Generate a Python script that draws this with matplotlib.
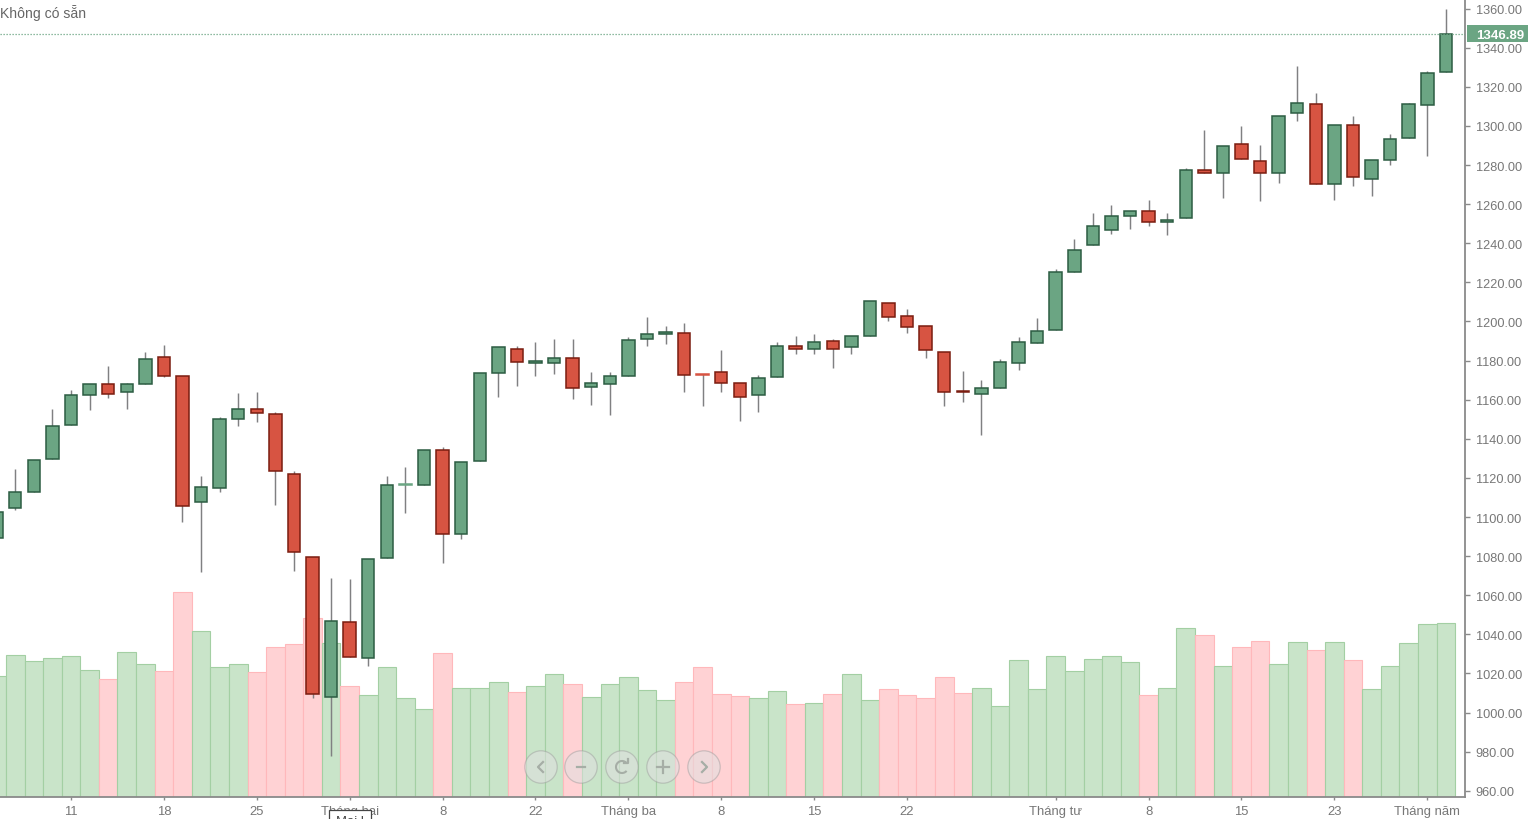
import matplotlib
matplotlib.use('Agg')
import matplotlib.pyplot as plt
from matplotlib.lines import Line2D
from matplotlib.patches import Arc, Circle, Rectangle
from matplotlib.transforms import IdentityTransform

plt.rcParams['font.family'] = ['Liberation Sans', 'DejaVu Sans']

opens = [1089.4, 1104.8, 1112.9, 1129.8, 1147.2, 1162.6, 1168.2, 1164.1, 1168.2, 1182.0,
         1172.3, 1107.8, 1115.0, 1150.3, 1155.4, 1152.8, 1122.1, 1079.7, 1008.1, 1046.5,
         1028.0, 1079.2, 1116.5, 1116.5, 1134.4, 1091.5, 1128.8, 1173.8, 1186.1, 1178.9,
         1178.9, 1181.5, 1166.6, 1168.2, 1172.3, 1191.2, 1193.8, 1194.3, 1173.0, 1174.3,
         1168.7, 1162.6, 1171.8, 1187.6, 1186.1, 1190.2, 1187.1, 1192.7, 1209.6, 1203.0,
         1197.9, 1184.6, 1164.3, 1163.1, 1166.1, 1178.9, 1189.1, 1195.8, 1225.5, 1239.3,
         1247.0, 1254.1, 1256.7, 1251.0, 1253.1, 1277.6, 1276.1, 1290.9, 1282.3, 1276.1,
         1306.8, 1311.4, 1270.5, 1300.7, 1273.0, 1282.8, 1294.0, 1310.9, 1327.8]
highs = [1102.7, 1124.7, 1129.3, 1155.4, 1165.1, 1168.2, 1177.4, 1168.7, 1184.6, 1188.1,
         1172.3, 1121.1, 1151.3, 1163.6, 1164.1, 1153.9, 1123.7, 1079.7, 1069.0, 1068.5,
         1078.7, 1121.1, 1125.7, 1134.4, 1136.0, 1128.3, 1173.8, 1187.1, 1187.6, 1189.7,
         1191.2, 1191.2, 1174.3, 1174.3, 1192.2, 1202.5, 1197.9, 1199.4, 1173.0, 1185.6,
         1168.7, 1172.8, 1189.7, 1192.7, 1193.8, 1191.2, 1192.7, 1210.6, 1209.6, 1206.5,
         1197.9, 1184.6, 1174.8, 1170.2, 1181.0, 1192.2, 1201.9, 1227.0, 1242.4, 1255.6,
         1259.7, 1256.7, 1262.3, 1255.6, 1278.7, 1298.1, 1289.9, 1300.2, 1290.4, 1305.3,
         1330.8, 1317.0, 1300.7, 1305.3, 1282.8, 1296.1, 1311.9, 1328.3, 1360.0]
lows = [1089.4, 1103.7, 1112.9, 1129.8, 1147.2, 1154.9, 1161.0, 1155.4, 1168.2, 1171.8,
        1097.6, 1072.0, 1112.9, 1146.7, 1148.7, 1106.3, 1072.5, 1007.6, 977.9, 1028.5,
        1023.9, 1079.2, 1102.2, 1116.5, 1076.6, 1088.9, 1128.8, 1161.5, 1167.2, 1172.3,
        1173.3, 1160.5, 1157.4, 1152.3, 1172.3, 1187.6, 1188.6, 1164.1, 1156.9, 1164.1,
        1149.3, 1153.9, 1171.8, 1183.5, 1183.5, 1176.4, 1183.5, 1192.7, 1200.4, 1194.3,
        1181.5, 1156.9, 1159.0, 1142.1, 1166.1, 1175.3, 1189.1, 1195.8, 1225.5, 1239.3,
        1244.9, 1247.5, 1249.0, 1244.4, 1253.1, 1276.1, 1263.3, 1283.3, 1261.8, 1271.0,
        1302.7, 1270.5, 1262.3, 1269.5, 1264.3, 1280.2, 1294.0, 1284.8, 1327.8]
closes = [1102.7, 1112.9, 1129.3, 1146.7, 1162.6, 1168.2, 1163.1, 1168.2, 1181.0, 1172.3,
          1105.8, 1115.5, 1150.3, 1155.4, 1153.4, 1123.7, 1082.3, 1009.6, 1047.0, 1028.5,
          1078.7, 1116.5, 1116.7, 1134.4, 1091.5, 1128.3, 1173.8, 1187.1, 1179.4, 1179.9,
          1181.5, 1166.1, 1168.7, 1172.3, 1190.7, 1193.8, 1194.8, 1172.8, 1172.8, 1168.7,
          1161.5, 1171.3, 1187.6, 1186.1, 1189.7, 1186.1, 1192.7, 1210.6, 1202.5, 1197.3,
          1185.6, 1164.1, 1163.7, 1166.1, 1179.4, 1189.7, 1195.3, 1225.5, 1236.7, 1249.0,
          1254.1, 1256.7, 1251.0, 1252.1, 1277.6, 1276.1, 1289.9, 1283.3, 1276.1, 1305.3,
          1311.9, 1270.5, 1300.7, 1274.1, 1282.8, 1293.5, 1311.4, 1327.3, 1346.89]
volumes = [121, 142, 136, 139, 141, 127, 118, 145, 133, 126,
           205, 166, 130, 133, 125, 150, 153, 179, 154, 111,
           102, 130, 99, 88, 144, 109, 109, 115, 105, 111,
           123, 113, 100, 113, 120, 107, 97, 115, 130, 103,
           101, 99, 106, 93, 94, 103, 123, 97, 108, 102,
           99, 120, 104, 109, 91, 137, 108, 141, 126, 138,
           141, 135, 102, 109, 169, 162, 131, 150, 156, 133,
           155, 147, 155, 137, 108, 131, 154, 173, 174]

price_ticks = list(range(960, 1361, 20))
date_tick_pos = [4, 9, 14, 19, 24, 29, 34, 39, 44, 49, 57, 62, 67, 72, 77]
date_tick_labels = ['11', '18', '25', 'Tháng hai', '8', '22', 'Tháng ba', '8', '15', '22',
                    'Tháng tư', '8', '15', '23', 'Tháng năm']
no_data_text = 'Không có sẵn'

UP_FILL, UP_EDGE = '#6ba583', '#2c5c42'
DOWN_FILL, DOWN_EDGE = '#d75442', '#7a1c10'
VOL_UP, VOL_UP_EDGE = '#c9e4c9', '#a3cfa3'
VOL_DOWN, VOL_DOWN_EDGE = '#ffd2d4', '#ffb8bb'
WICK = '#808082'
AXIS = '#8a8a8a'
LABEL = '#777777'

W, H = 1528, 820


def main():
    fig = plt.figure(figsize=(W / 100, H / 100), dpi=100, facecolor='white')
    rect = [0, (H - 797.5) / H, 1465 / W, 797.5 / H]
    ax = fig.add_axes(rect)
    ax_vol = ax.twinx()
    ax.set_zorder(ax_vol.get_zorder() + 1)
    ax.patch.set_visible(False)
    ax_vol.set_facecolor('white')

    x = list(range(len(closes)))
    up = [c >= o for o, c in zip(opens, closes)]

    # Volume sits behind the candles
    ax_vol.bar(x, volumes, width=1.0,
               color=[VOL_UP if u else VOL_DOWN for u in up],
               edgecolor=[VOL_UP_EDGE if u else VOL_DOWN_EDGE for u in up],
               linewidth=0.8)
    ax_vol.set_ylim(0, 797.5)
    ax_vol.set_yticks([])
    ax_vol.tick_params(right=False, labelright=False)

    ax.vlines(x, lows, highs, color=WICK, linewidth=1.05, zorder=2)

    # Flat candles get no dark outline, they show as a light dash
    heights = [abs(c - o) for o, c in zip(opens, closes)]
    edges = []
    for u, h in zip(up, heights):
        if h < 0.3:
            edges.append(UP_FILL if u else DOWN_FILL)
        else:
            edges.append(UP_EDGE if u else DOWN_EDGE)
    ax.bar(x, heights, bottom=[min(o, c) for o, c in zip(opens, closes)], width=0.67,
           color=[UP_FILL if u else DOWN_FILL for u in up],
           edgecolor=edges, linewidth=1.1, zorder=3)

    ax.axhline(closes[-1], color=UP_FILL, linestyle=(0, (1, 1.4)), linewidth=0.9, zorder=4)

    ax.set_xlim(0.1787, 79.03)
    ax.set_ylim(957.05, 1364.95)

    ax.yaxis.tick_right()
    ax.set_yticks(price_ticks)
    ax.set_yticklabels([f'{p:.2f}' for p in price_ticks])
    ax.set_xticks(date_tick_pos)
    ax.set_xticklabels(date_tick_labels)
    ax.tick_params(axis='y', length=3.6, width=1.0, color=AXIS, labelcolor=LABEL,
                   labelsize=9.2, pad=4.2)
    ax.tick_params(axis='x', length=2.5, width=1.0, color=AXIS, labelcolor=LABEL,
                   labelsize=9.4, pad=3.8)

    for name in ['top', 'left']:
        ax.spines[name].set_visible(False)
        ax_vol.spines[name].set_visible(False)
    for name in ['right', 'bottom']:
        ax.spines[name].set_color(AXIS)
        ax.spines[name].set_linewidth(1.3)
        ax_vol.spines[name].set_visible(False)

    identity = IdentityTransform()

    # Current price tag
    fig.add_artist(Rectangle((1467, H - 43), 61, 17, facecolor=UP_FILL, edgecolor='none',
                             transform=identity, zorder=5))
    fig.text(1476 / W, 1 - 36 / H, f'{closes[-1]:.2f}', color='white', fontsize=9.5,
             fontweight='bold', ha='left', va='center', zorder=6)

    fig.text(0, 1 - 13 / H, no_data_text, color='#666666', fontsize=10.1,
             ha='left', va='center')

    # Cut off tooltip under the "Thang hai" label
    fig.add_artist(Rectangle((329, H - 823), 42, 12, facecolor='white', edgecolor='#444444',
                             linewidth=0.9, transform=identity, zorder=5))
    fig.text(336 / W, 1 - 816 / H, 'Mai l', color='#444444', fontsize=9.4, ha='left',
             va='top', zorder=6)

    # Chart navigation buttons
    centers = [541, 581, 622, 663, 704]
    cy = H - 768
    glyph = '#a6aea6'
    for cx in centers:
        fig.add_artist(Circle((cx, cy), 16.2, facecolor=(0.88, 0.88, 0.88, 0.55),
                              edgecolor=(0.6, 0.6, 0.6, 0.45), linewidth=0.9,
                              transform=identity, zorder=5))

    def stroke(xs, ys):
        fig.add_artist(Line2D(xs, ys, color=glyph, linewidth=1.6, transform=identity, zorder=6))

    stroke([543, 538, 543], [cy + 5, cy, cy - 5])
    stroke([577, 585], [cy, cy])
    fig.add_artist(Arc((622, cy), 12, 12, theta1=40, theta2=320, color=glyph, linewidth=1.5,
                       transform=identity, zorder=6))
    stroke([624, 628, 628], [cy + 4, cy + 4, cy + 8])
    stroke([657, 669], [cy, cy])
    stroke([663, 663], [cy - 6, cy + 6])
    stroke([702, 707, 702], [cy + 5, cy, cy - 5])

    fig.savefig('out.png', dpi=100, facecolor='white')
    plt.close(fig)


if __name__ == '__main__':
    main()
